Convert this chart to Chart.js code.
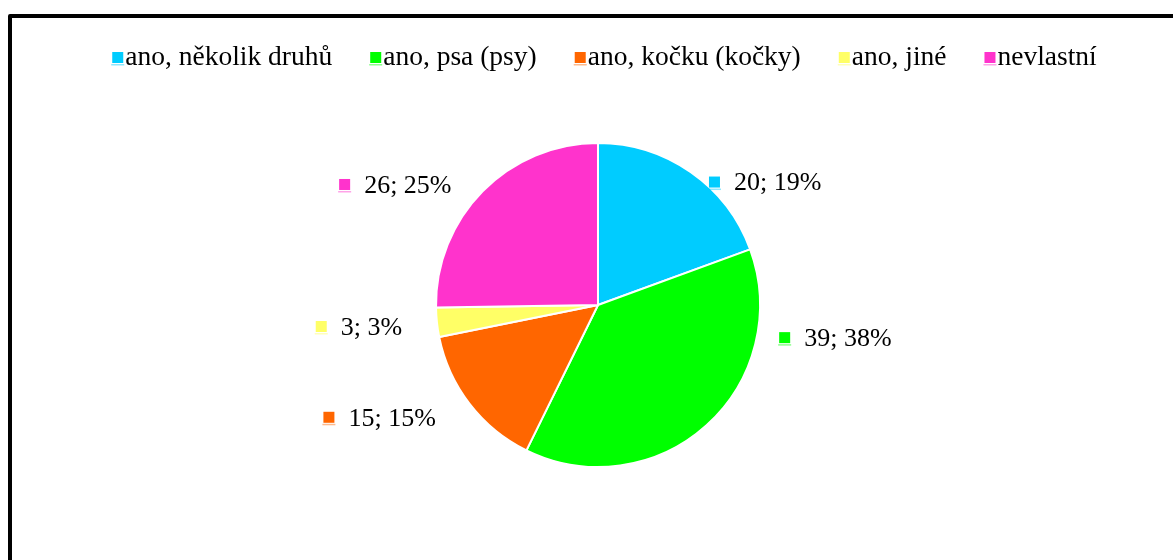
<!DOCTYPE html>
<html>
<head>
  <meta charset="utf-8">
  <title>Vlastníte zvíře?</title>
  <script src="https://cdn.jsdelivr.net/npm/chart.js@4/dist/chart.umd.min.js"></script>
  <style>
    html, body { margin: 0; padding: 0; background: #fff; }
    #wrap { width: 1173px; height: 560px; }
  </style>
</head>
<body>
<div id="wrap"><canvas id="pieChart"></canvas></div>
<script>
// data
var categories = ["ano, několik druhů", "ano, psa (psy)", "ano, kočku (kočky)", "ano, jiné", "nevlastní"]
var counts = [20, 39, 15, 3, 26]
var percents = [19, 38, 15, 3, 25]
var colors = ["#00ccff", "#00ff00", "#ff6600", "#ffff66", "#ff33cc"]

var FONT = "26px 'Liberation Serif', 'Times New Roman', serif"
var LEGEND_FONT = "27.5px 'Liberation Serif', 'Times New Roman', serif"

// small square marker like the office ones
function marker(ctx, x, y, col){
  ctx.fillStyle = col
  ctx.fillRect(x, y - 5, 11, 11)
  ctx.globalAlpha = 0.45
  ctx.fillRect(x - 1, y + 7, 13, 1.5)
  ctx.globalAlpha = 1
}

// frame + legend + outside labels
var decor = {
  id: "decor",
  beforeDraw: function(chart){
    var ctx = chart.ctx
    ctx.save()
    ctx.fillStyle = "#fff"
    ctx.fillRect(0, 0, chart.width, chart.height)
    ctx.strokeStyle = "#000"
    ctx.lineWidth = 4
    ctx.lineJoin = "round"
    ctx.strokeRect(10, 16, chart.width + 20, chart.height + 20)
    ctx.restore()
  },
  afterDraw: function(chart, args, opts){
    var ctx = chart.ctx
    ctx.save()
    ctx.textBaseline = "middle"

    //legend
    ctx.font = LEGEND_FONT
    var labels = chart.data.labels
    var widths = labels.map(function(l){ return 13 + ctx.measureText(l).width })
    var total = widths.reduce(function(a, b){ return a + b }, 0) + opts.legendGap * (labels.length - 1)
    var x = (chart.width - total) / 2 + opts.legendShift
    for(i=0;i<labels.length;i++){
      marker(ctx, x, opts.legendY, colors[i])
      ctx.fillStyle = "#000"
      ctx.textAlign = "left"
      ctx.fillText(labels[i], x + 13, opts.legendY + 1)
      x += widths[i] + opts.legendGap
    }

    //data labels
    ctx.font = FONT
    var meta = chart.getDatasetMeta(0)
    meta.data.forEach(function(arc, i){
      var p = arc.getProps(["x", "y", "startAngle", "endAngle", "outerRadius"], true)
      var a = (p.startAngle + p.endAngle) / 2 + opts.angleShift[i] * Math.PI / 180
      var r = p.outerRadius + opts.gap[i]
      var ax = p.x + Math.cos(a) * r
      var ay = p.y + Math.sin(a) * r
      var txt = counts[i] + "; " + percents[i] + "%"
      var w = ctx.measureText(txt).width
      if(Math.cos(a) >= 0){
        marker(ctx, ax, ay, colors[i])
        ctx.fillStyle = "#000"
        ctx.textAlign = "left"
        ctx.fillText(txt, ax + 25, ay + 2)
      } else {
        ctx.fillStyle = "#000"
        ctx.textAlign = "right"
        ctx.fillText(txt, ax, ay + 2)
        marker(ctx, ax - w - 25, ay, colors[i])
      }
    })
    ctx.restore()
  }
}

var pieChart = new Chart(document.getElementById("pieChart").getContext("2d"), {
  type: "pie",
  data: {
    labels: categories,
    datasets: [{
      data: counts,
      backgroundColor: colors,
      borderColor: "#ffffff",
      borderWidth: 2,
      radius: 162
    }]
  },
  options: {
    responsive: true,
    maintainAspectRatio: false,
    animation: false,
    layout: { padding: { top: 143, bottom: 93, left: 23, right: 0 } },
    plugins: {
      legend: { display: false },
      tooltip: { enabled: false },
      decor: {
        legendY: 57,
        legendGap: 38,
        legendShift: 18,
        angleShift: [7, -38, 3, 0, -5],
        gap: [4, 22, 35, 35, 28]
      }
    }
  },
  plugins: [decor]
})
</script>
</body>
</html>
